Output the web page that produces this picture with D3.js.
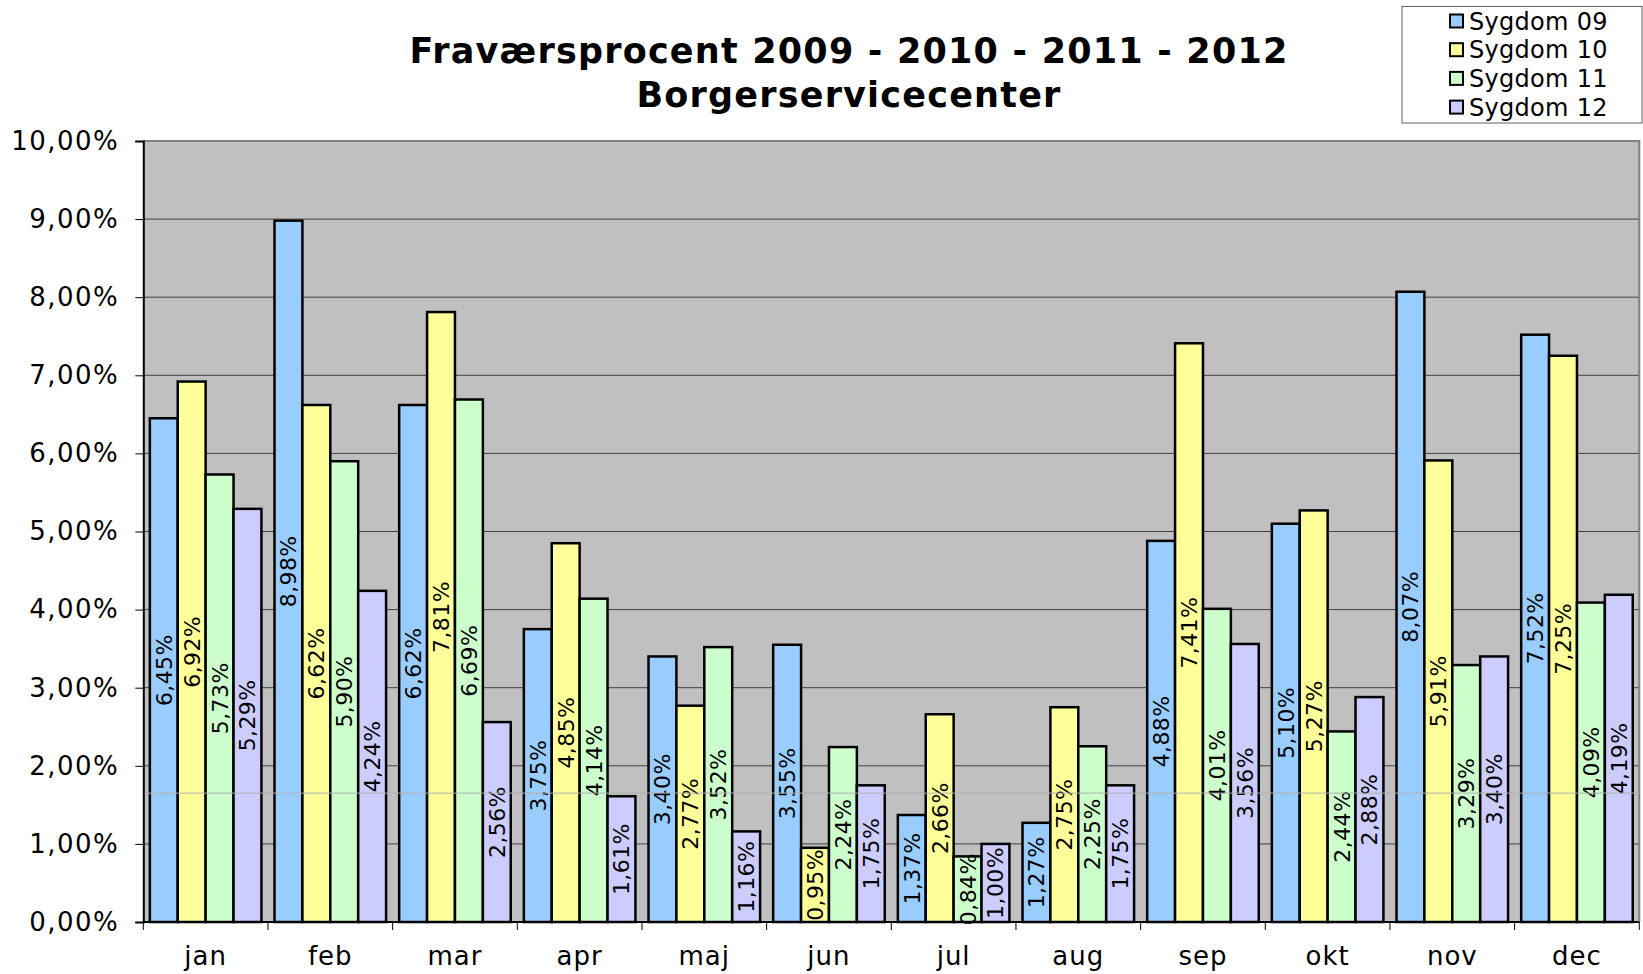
<!DOCTYPE html>
<meta charset="utf-8">
<style>
    body { margin: 0; background: #fff; }
    text { font-family: "DejaVu Sans", Verdana, sans-serif; fill: #000; }
    .grid line { stroke: #404040; stroke-width: 1; }
    .bar { stroke: #000; stroke-width: 2.5; }
</style>
<svg width="1643" height="974"></svg>
<script src="https://d3js.org/d3.v7.min.js"></script>
<script>

    var months = ["jan", "feb", "mar", "apr", "maj", "jun", "jul", "aug", "sep", "okt", "nov", "dec"];
    var seriesNames = ["Sygdom 09", "Sygdom 10", "Sygdom 11", "Sygdom 12"];
    var sygdom09 = [6.45, 8.98, 6.62, 3.75, 3.40, 3.55, 1.37, 1.27, 4.88, 5.10, 8.07, 7.52];
    var sygdom10 = [6.92, 6.62, 7.81, 4.85, 2.77, 0.95, 2.66, 2.75, 7.41, 5.27, 5.91, 7.25];
    var sygdom11 = [5.73, 5.90, 6.69, 4.14, 3.52, 2.24, 0.84, 2.25, 4.01, 2.44, 3.29, 4.09];
    var sygdom12 = [5.29, 4.24, 2.56, 1.61, 1.16, 1.75, 1.00, 1.75, 3.56, 2.88, 3.40, 4.19];
    var yTicks = [0, 1, 2, 3, 4, 5, 6, 7, 8, 9, 10];
    var refLine = 1.65;
    var colors = ["#99ccff", "#ffff99", "#ccffcc", "#ccccff"];

    var values = [sygdom09, sygdom10, sygdom11, sygdom12];

    var svg = d3.select("svg");
    var plotLeft = 143.3, plotRight = 1639.3, plotTop = 141, plotBottom = 922;

    var x0 = d3.scaleBand().domain(months).range([plotLeft, plotRight])
        .paddingInner(0.105).paddingOuter(0.0525);
    var x1 = d3.scaleBand().domain(d3.range(4)).range([0, x0.bandwidth()]);
    var y = d3.scaleLinear().domain([0, 10]).range([plotBottom, plotTop]);

    function fmt(v) { return d3.format(".2f")(v).replace(".", ",") + "%"; }

    // plot background
    svg.append("rect")
        .attr("x", plotLeft).attr("y", plotTop)
        .attr("width", plotRight - plotLeft).attr("height", plotBottom - plotTop)
        .attr("fill", "#c0c0c0");

    // gridlines
    svg.append("g").attr("class", "grid")
        .selectAll("line").data(yTicks.slice(1, -1))
        .enter().append("line")
        .attr("x1", plotLeft).attr("x2", plotRight)
        .attr("y1", function(d) { return y(d); })
        .attr("y2", function(d) { return y(d); });

    // frame top/right
    svg.append("path")
        .attr("d", "M" + plotLeft + "," + plotTop + "H" + plotRight + "V" + plotBottom)
        .attr("fill", "none").attr("stroke", "#808080").attr("stroke-width", 2);

    // bars
    var groups = svg.append("g").selectAll("g")
        .data(months).enter().append("g")
        .attr("transform", function(d) { return "translate(" + x0(d) + ",0)"; });

    groups.selectAll("rect")
        .data(function(m, i) { return values.map(function(s, k) { return {k: k, v: s[i]}; }); })
        .enter().append("rect")
        .attr("class", "bar")
        .attr("x", function(d) { return x1(d.k); })
        .attr("width", x1.bandwidth())
        .attr("y", function(d) { return y(d.v); })
        .attr("height", function(d) { return y(0) - y(d.v); })
        .attr("fill", function(d) { return colors[d.k]; });

    // faint reference line
    svg.append("line")
        .attr("x1", plotLeft).attr("x2", plotRight)
        .attr("y1", y(refLine)).attr("y2", y(refLine))
        .attr("stroke", "#b0b0b0").attr("stroke-width", 1);

    // data labels, rotated, centred in the bar
    groups.selectAll("text")
        .data(function(m, i) { return values.map(function(s, k) { return {k: k, v: s[i]}; }); })
        .enter().append("text")
        .attr("transform", function(d) {
            return "translate(" + (x1(d.k) + x1.bandwidth() / 2) + "," + y(d.v / 2) + ") rotate(-90)";
        })
        .attr("text-anchor", "middle")
        .attr("dy", "0.36em")
        .style("font-size", "22px")
        .style("letter-spacing", "0.4px")
        .text(function(d) { return fmt(d.v); });

    // y axis
    var yAxis = svg.append("g")
        .attr("transform", "translate(" + plotLeft + ",0)")
        .call(d3.axisLeft(y).tickValues(yTicks).tickSize(8).tickPadding(16)
            .tickFormat(fmt));
    yAxis.select(".domain").attr("stroke", "#000").attr("stroke-width", 2);
    yAxis.selectAll(".tick line").attr("stroke", "#000");
    yAxis.selectAll("text").attr("font-family", null)
        .style("font-size", "26px").style("letter-spacing", "1.5px");

    // x axis
    var xAxis = svg.append("g")
        .attr("transform", "translate(0," + plotBottom + ")");
    xAxis.append("line")
        .attr("x1", plotLeft).attr("x2", plotRight)
        .attr("stroke", "#000").attr("stroke-width", 2);
    xAxis.selectAll(".tk").data(months.concat(["end"]))
        .enter().append("line")
        .attr("x1", function(d, i) { return plotLeft + i * x0.step(); })
        .attr("x2", function(d, i) { return plotLeft + i * x0.step(); })
        .attr("y1", 0).attr("y2", 8)
        .attr("stroke", "#000");
    xAxis.selectAll("text").data(months)
        .enter().append("text")
        .attr("x", function(d) { return x0(d) + x0.bandwidth() / 2; })
        .attr("y", 43)
        .attr("text-anchor", "middle")
        .style("font-size", "26px")
        .style("letter-spacing", "1px")
        .text(function(d) { return d; });

    // title
    var title = svg.append("text")
        .attr("x", 849).attr("text-anchor", "middle")
        .style("font-size", "35px").style("font-weight", "bold")
        .style("letter-spacing", "1.2px");
    title.append("tspan").attr("x", 849).attr("y", 63).text("Fraværsprocent 2009 - 2010 - 2011 - 2012");
    title.append("tspan").attr("x", 849).attr("y", 107).text("Borgerservicecenter");

    // legend
    var legend = svg.append("g");
    legend.append("rect")
        .attr("x", 1402).attr("y", 6.5).attr("width", 240).attr("height", 116.5)
        .attr("fill", "#fff").attr("stroke", "#606060").attr("stroke-width", 1);
    var items = legend.selectAll("g.item").data(seriesNames)
        .enter().append("g")
        .attr("transform", function(d, i) { return "translate(0," + (29.5 + i * 28.7) + ")"; });
    items.append("rect")
        .attr("x", 1450).attr("y", -15).attr("width", 13).attr("height", 13)
        .attr("fill", function(d, i) { return colors[i]; })
        .attr("stroke", "#000").attr("stroke-width", 2);
    items.append("text")
        .attr("x", 1469).attr("y", 0)
        .style("font-size", "24px")
        .style("letter-spacing", "0.3px")
        .text(function(d) { return d; });

</script>
